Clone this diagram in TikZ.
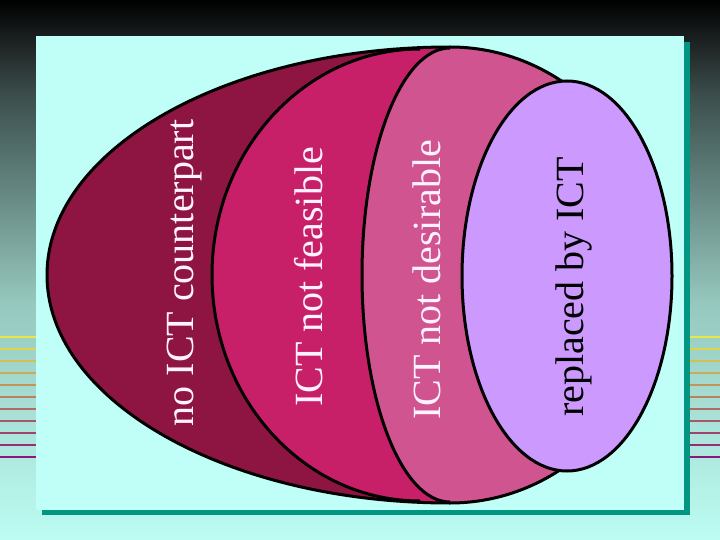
\documentclass[tikz,border=0pt]{standalone}
\usepackage{fontspec}
\setmainfont{Liberation Serif}
\usepackage{tikz}

\definecolor{panelcyan}{RGB}{192,255,248}
\definecolor{shadowteal}{RGB}{0,150,130}
\definecolor{maroonband}{RGB}{142,20,66}
\definecolor{crimsonband}{RGB}{200,32,104}
\definecolor{pinkband}{RGB}{208,84,144}
\definecolor{lavenderband}{RGB}{204,153,255}
\definecolor{labelwhite}{RGB}{255,242,255}
\definecolor{linetop}{RGB}{232,232,70}
\definecolor{linebot}{RGB}{140,25,120}
\definecolor{bgbot}{RGB}{188,252,242}
\definecolor{bgmid}{RGB}{150,200,190}
\definecolor{bgup}{RGB}{60,80,78}
\definecolor{bgtop}{RGB}{30,35,35}

\pgfdeclareverticalshading{bgshade}{100bp}{color(0bp)=(bgbot); color(25bp)=(bgbot); color(47bp)=(bgmid); color(66bp)=(bgup); color(71bp)=(bgtop); color(75bp)=(black); color(100bp)=(black)}

\begin{document}
\begin{tikzpicture}[x=1pt,y=-1pt,
    outline/.style={line width=3pt,black},
    bandlabel/.style={rotate=90,anchor=base,inner sep=0pt,text=labelwhite,
      font=\fontsize{40}{48}\selectfont}]
        \useasboundingbox (0,0) rectangle (720,540);
        % background and stripes
        \shade[shading=bgshade] (0,0) rectangle (720,540);
        \foreach \k in {0,...,10}{
          \pgfmathtruncatemacro\mixpct{100-10*\k}
          \draw[line width=1.3pt,linetop!\mixpct!linebot] (0,{337+12*\k}) -- (720,{337+12*\k});
        }
        % panel
        \fill[shadowteal] (42,42) rectangle (690,515);
        \fill[panelcyan] (36,36) rectangle (684,510);
        % bands
        \fill[maroonband] (450,47) arc[start angle=270,end angle=90,x radius=403,y radius=228]
          arc[start angle=90,end angle=-90,x radius=212,y radius=228] -- cycle;
        \begin{scope}
          \clip (450,47) arc[start angle=270,end angle=90,x radius=403,y radius=228]
            arc[start angle=90,end angle=-90,x radius=212,y radius=228] -- cycle;
          \fill[crimsonband] (420,0) -- (420,49) arc[start angle=270,end angle=90,x radius=208,y radius=226]
            -- (420,540) -- (720,540) -- (720,0) -- cycle;
          \fill[pinkband] (450,0) -- (450,48) arc[start angle=270,end angle=90,x radius=88,y radius=227]
            -- (450,540) -- (720,540) -- (720,0) -- cycle;
        \end{scope}
        \draw[outline] (420,49) arc[start angle=270,end angle=90,x radius=208,y radius=226];
        \draw[outline] (450,48) arc[start angle=270,end angle=90,x radius=88,y radius=227];
        \draw[outline] (450,47) arc[start angle=270,end angle=90,x radius=403,y radius=228]
          arc[start angle=90,end angle=-90,x radius=212,y radius=228] -- cycle;
        \draw[outline,fill=lavenderband] (567,276) ellipse[x radius=105,y radius=195];
        % labels
        \node[bandlabel] (nocounter) at (193,273) {no ICT counterpart};
        \node[bandlabel] (notfeasible) at (322,277) {ICT not feasible};
        \node[bandlabel] (notdesirable) at (440,280) {ICT not desirable};
        \node[bandlabel,text=black] (replaced) at (583,287) {replaced by ICT};
\end{tikzpicture}
\end{document}
